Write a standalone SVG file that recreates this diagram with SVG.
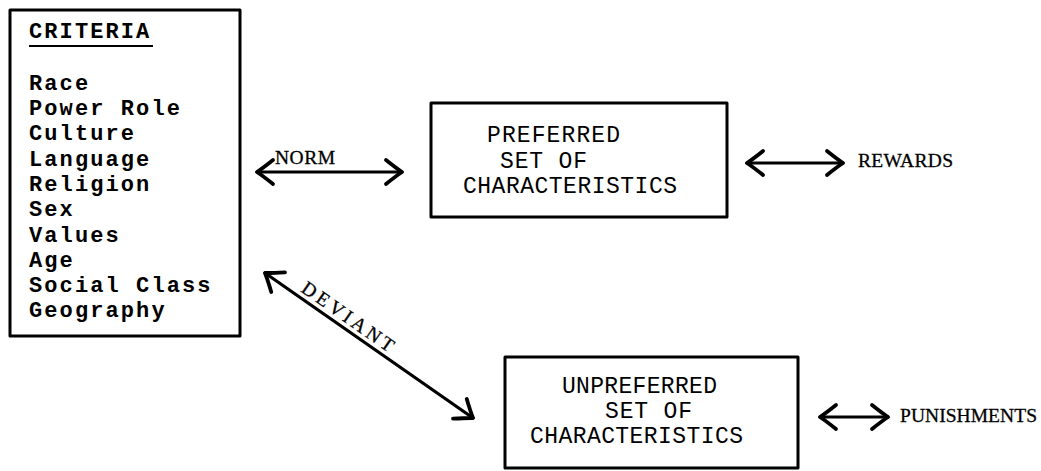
<svg xmlns="http://www.w3.org/2000/svg" width="1041" height="471" viewBox="0 0 1041 471">
  <style>
    .box { fill: none; stroke: #000; stroke-width: 3; stroke-linejoin: round; }
    .crit { font-family: "Liberation Mono", "DejaVu Sans Mono", monospace; font-size: 22px; font-weight: bold; letter-spacing: 2.1px; fill: #000; }
    .label { font-family: "Liberation Mono", "DejaVu Sans Mono", monospace; font-size: 23px; fill: #000; }
    .tag { font-family: "Liberation Serif", "DejaVu Serif", serif; font-size: 19.5px; fill: #000; stroke: #000; stroke-width: 0.3; }
    .link { fill: none; stroke: #000; stroke-width: 3.2; stroke-linecap: round; marker-start: url(#head); marker-end: url(#head); }
  </style>
  <defs>
    <!-- open chevron arrowhead, reused at both ends of each double-headed link -->
    <marker id="head" markerUnits="userSpaceOnUse" viewBox="-20 -15 24 30" markerWidth="24" markerHeight="30" refX="0" refY="0" orient="auto-start-reverse" overflow="visible">
      <path d="M -16,-12 Q -6,-4 0,0 Q -6,4 -16,12" fill="none" stroke="#000" stroke-width="3.8" stroke-linecap="round" stroke-linejoin="round"/>
    </marker>
  </defs>
  <rect width="1041" height="471" fill="#fff"/>

  <g id="criteria">
    <rect class="box" x="10" y="10" width="230" height="326"/>
    <text class="crit" x="29" y="38">CRITERIA</text>
    <line x1="29" y1="46" x2="153" y2="46" stroke="#000" stroke-width="2"/>
    <text class="crit" x="29" y="90">Race</text>
    <text class="crit" x="29" y="115">Power Role</text>
    <text class="crit" x="29" y="140">Culture</text>
    <text class="crit" x="29" y="166">Language</text>
    <text class="crit" x="29" y="191">Religion</text>
    <text class="crit" x="29" y="216">Sex</text>
    <text class="crit" x="29" y="242">Values</text>
    <text class="crit" x="29" y="267">Age</text>
    <text class="crit" x="29" y="292">Social Class</text>
    <text class="crit" x="29" y="317">Geography</text>
  </g>

  <g id="preferred">
    <rect class="box" x="431" y="103" width="296" height="114"/>
    <text class="label" x="487" y="142" textLength="133" lengthAdjust="spacing">PREFERRED</text>
    <text class="label" x="500" y="168" textLength="87" lengthAdjust="spacing">SET OF</text>
    <text class="label" x="463" y="193" textLength="214" lengthAdjust="spacing">CHARACTERISTICS</text>
  </g>

  <g id="unpreferred">
    <rect class="box" x="505" y="357" width="293" height="111"/>
    <text class="label" x="562" y="393" textLength="155" lengthAdjust="spacing">UNPREFERRED</text>
    <text class="label" x="605" y="418" textLength="87" lengthAdjust="spacing">SET OF</text>
    <text class="label" x="530" y="443" textLength="213" lengthAdjust="spacing">CHARACTERISTICS</text>
  </g>

  <g id="rewards">
    <text class="tag" x="858" y="167" textLength="95" lengthAdjust="spacing">REWARDS</text>
  </g>

  <g id="punishments">
    <text class="tag" x="900" y="422" textLength="137" lengthAdjust="spacing">PUNISHMENTS</text>
  </g>

  <g id="connectors">
    <line class="link" x1="257" y1="172" x2="402" y2="172"/>
    <text class="tag" x="275" y="164" font-size="19" textLength="60" lengthAdjust="spacing">NORM</text>
    <line class="link" x1="265" y1="273" x2="473" y2="418"/>
    <text class="tag" transform="translate(300,291) rotate(34.9)" font-size="20" textLength="108" lengthAdjust="spacing">DEVIANT</text>
    <line class="link" x1="747" y1="163" x2="843" y2="163"/>
    <line class="link" x1="820" y1="417" x2="888" y2="417"/>
  </g>
</svg>
